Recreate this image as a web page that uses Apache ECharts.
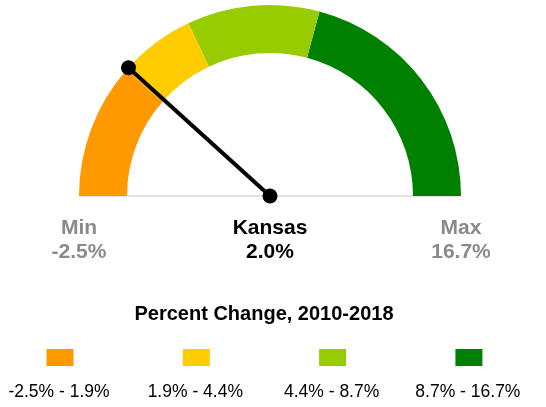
<!DOCTYPE html>
<html>
<head>
<meta charset="utf-8">
<script src="https://cdn.jsdelivr.net/npm/echarts@6/dist/echarts.min.js"></script>
<style>
  html, body { margin: 0; padding: 0; background: #fff; }
  #chart { width: 546px; height: 407px; }
</style>
</head>
<body>
<div id="chart"></div>
<script>
  // data
  var stateName = 'Kansas';
  var stateValue = 2.0;
  var gaugeMin = -2.5;
  var gaugeMax = 16.7;
  var bandEnds = [1.9, 4.4, 8.7, 16.7];
  var bandColors = ['#FF9900', '#FFCC00', '#99CC00', '#008000'];
  var bandLabels = ['-2.5% - 1.9%', '1.9% - 4.4%', '4.4% - 8.7%', '8.7% - 16.7%'];
  var legendTitle = 'Percent Change, 2010-2018';

  var font = "'Liberation Sans', Arial, sans-serif";
  var cx = 270, cy = 196, R = 191;

  var stops = bandEnds.map(function(v, i) {
    return [(v - gaugeMin) / (gaugeMax - gaugeMin), bandColors[i]];
  });

  var graphics = [];
  // baseline under the gauge
  graphics.push({
    type: 'line', shape: { x1: cx - R, y1: cy, x2: cx + R, y2: cy },
    style: { stroke: '#d9d9d9', lineWidth: 1.5 }, z: 0
  });
  // min / max labels
  [[cx - R, 'Min', gaugeMin], [cx + R, 'Max', gaugeMax]].forEach(function(m) {
    graphics.push({
      type: 'text', x: m[0], y: 240,
      style: {
        text: m[1] + '\n' + m[2].toFixed(1) + '%', fill: '#8a8a8a',
        font: 'bold 21px ' + font, lineHeight: 24,
        align: 'center', verticalAlign: 'middle'
      }
    });
  });
  // legend title
  graphics.push({
    type: 'text', x: 264, y: 314,
    style: { text: legendTitle, fill: '#000', font: 'bold 20px ' + font, align: 'center', verticalAlign: 'middle' }
  });
  // legend boxes and labels
  bandLabels.forEach(function(lbl, i) {
    var x = 60 + i * 136.3;
    graphics.push({
      type: 'rect', shape: { x: x - 13.5, y: 349, width: 27, height: 17 },
      style: { fill: bandColors[i] }
    });
    graphics.push({
      type: 'text', x: x - 1, y: 392,
      style: { text: lbl, fill: '#000', font: '17.5px ' + font, align: 'center', verticalAlign: 'middle' }
    });
  });

  var chart = echarts.init(document.getElementById('chart'));
  var option = {
    animation: false,
    graphic: graphics,
    series: [{
      type: 'gauge',
      center: [cx, cy],
      radius: R,
      startAngle: 180,
      endAngle: 0,
      min: gaugeMin,
      max: gaugeMax,
      axisLine: { lineStyle: { width: 48, color: stops } },
      splitLine: { show: false },
      axisTick: { show: false },
      axisLabel: { show: false },
      pointer: { icon: 'rect', length: R, width: 4, itemStyle: { color: '#000' } },
      anchor: { show: true, showAbove: true, size: 15, itemStyle: { color: '#000' } },
      title: {
        offsetCenter: [0, 32], color: '#000', fontSize: 21, fontWeight: 'bold', fontFamily: font
      },
      detail: {
        offsetCenter: [0, 56], color: '#000', fontSize: 21, fontWeight: 'bold', fontFamily: font,
        formatter: function(v) { return v.toFixed(1) + '%'; }
      },
      data: [{ value: stateValue, name: stateName }]
    }, {
      // dot at the needle tip
      type: 'gauge',
      center: [cx, cy],
      radius: R,
      startAngle: 180,
      endAngle: 0,
      min: gaugeMin,
      max: gaugeMax,
      axisLine: { show: false },
      splitLine: { show: false },
      axisTick: { show: false },
      axisLabel: { show: false },
      pointer: { icon: 'circle', length: 15, width: 15, offsetCenter: [0, -(R - 7.5)], itemStyle: { color: '#000' } },
      title: { show: false },
      detail: { show: false },
      data: [{ value: stateValue }]
    }]
  };
  chart.setOption(option);
</script>
</body>
</html>
